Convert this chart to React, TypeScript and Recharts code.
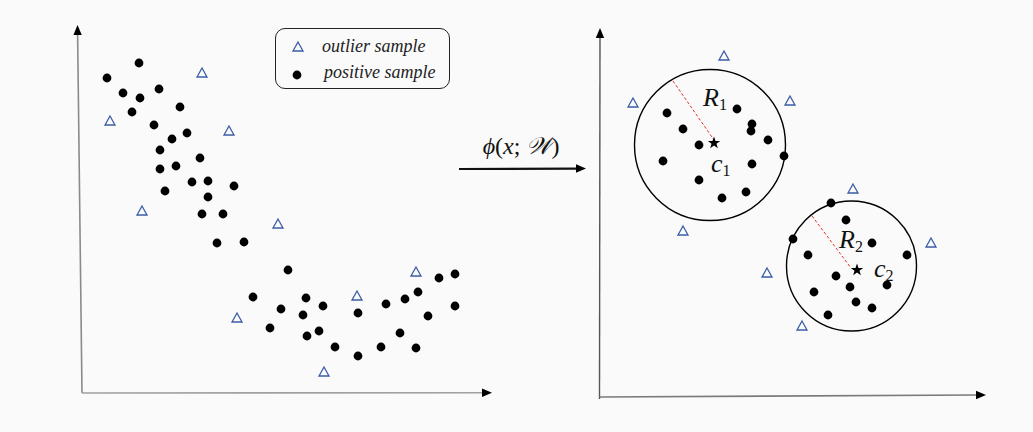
import React from "react";
import {
  ScatterChart,
  Scatter,
  XAxis,
  YAxis,
  ReferenceLine,
  ReferenceDot,
  Legend,
} from "recharts";

// ---------- data (diagram coordinates: x to the right, y downwards) ----------
const positiveLeft = [
  { x: 107, y: 78 }, { x: 139, y: 63 }, { x: 123, y: 93 }, { x: 140, y: 98 },
  { x: 159, y: 89 }, { x: 132, y: 112 }, { x: 180, y: 107 }, { x: 154, y: 125 },
  { x: 187, y: 133 }, { x: 172, y: 139 }, { x: 160, y: 150 }, { x: 200, y: 158 },
  { x: 160, y: 169 }, { x: 176, y: 166 }, { x: 192, y: 182 }, { x: 208, y: 181 },
  { x: 234, y: 186 }, { x: 165, y: 191 }, { x: 208, y: 197 }, { x: 202, y: 214 },
  { x: 223, y: 214 }, { x: 217, y: 243 }, { x: 244, y: 242 }, { x: 288, y: 270 },
  { x: 253, y: 297 }, { x: 281, y: 309 }, { x: 306, y: 298 }, { x: 303, y: 315 },
  { x: 323, y: 306 }, { x: 270, y: 328 }, { x: 307, y: 336 }, { x: 319, y: 331 },
  { x: 335, y: 347 }, { x: 358, y: 313 }, { x: 358, y: 356 }, { x: 386, y: 304 },
  { x: 405, y: 299 }, { x: 418, y: 292 }, { x: 439, y: 278 }, { x: 455, y: 274 },
  { x: 455, y: 306 }, { x: 428, y: 316 }, { x: 400, y: 333 }, { x: 381, y: 347 },
  { x: 416, y: 348 },
];
const outlierLeft = [
  { x: 202, y: 73 }, { x: 110, y: 121 }, { x: 229, y: 131 }, { x: 142, y: 211 },
  { x: 278, y: 224 }, { x: 237, y: 318 }, { x: 357, y: 296 }, { x: 416, y: 272 },
  { x: 324, y: 372 },
];
const positiveCluster1 = [
  { x: 667, y: 113 }, { x: 737, y: 109 }, { x: 683, y: 129 }, { x: 752, y: 124 },
  { x: 751, y: 131 }, { x: 768, y: 140 }, { x: 699, y: 145 }, { x: 784, y: 156 },
  { x: 663, y: 161 }, { x: 752, y: 164 }, { x: 699, y: 180 }, { x: 746, y: 192 },
  { x: 722, y: 198 },
];
const positiveCluster2 = [
  { x: 831, y: 203 }, { x: 846, y: 220 }, { x: 793, y: 239 }, { x: 872, y: 243 },
  { x: 808, y: 255 }, { x: 907, y: 255 }, { x: 836, y: 276 }, { x: 850, y: 287 },
  { x: 887, y: 285 }, { x: 814, y: 292 }, { x: 856, y: 302 }, { x: 872, y: 308 },
  { x: 828, y: 315 },
];
const outlierRight = [
  { x: 724, y: 56 }, { x: 633, y: 103 }, { x: 790, y: 101 }, { x: 683, y: 231 },
  { x: 853, y: 189 }, { x: 931, y: 243 }, { x: 767, y: 273 }, { x: 802, y: 326 },
];
const centers = [
  { x: 714, y: 143 },
  { x: 857, y: 270 },
];
const hyperspheres = [
  { x: 710, y: 145, r: 75.5 },
  { x: 851.5, y: 266, r: 65 },
];
const radii = [
  { from: { x: 673, y: 81 }, to: { x: 714, y: 140 } },
  { from: { x: 812, y: 216 }, to: { x: 851, y: 268 } },
];
const mathLabels = [
  { x: 703, y: 106, main: "R", sub: "1" },
  { x: 711, y: 172, main: "c", sub: "1" },
  { x: 839, y: 248, main: "R", sub: "2" },
  { x: 874, y: 277, main: "c", sub: "2" },
];
const mappingLabel = [{ x: 521, y: 154 }];
const arrows = [
  { from: { x: 82, y: 393 }, to: { x: 77.5, y: 25 }, color: "#8a8a8a", w: 1.6 },
  { from: { x: 82, y: 393 }, to: { x: 492, y: 392.7 }, color: "#a0a0a0", w: 1.6 },
  { from: { x: 599.5, y: 399 }, to: { x: 600, y: 28 }, color: "#555555", w: 1.4 },
  { from: { x: 599.5, y: 397 }, to: { x: 986, y: 395 }, color: "#7a7a7a", w: 1.6 },
  { from: { x: 459, y: 169 }, to: { x: 586, y: 168.5 }, color: "#111111", w: 2.2 },
];
const legendItems = ["outlier sample", "positive sample"];

// ---------- styling ----------
const BLUE = "#3b5ca6";
const SERIF = "'Liberation Serif', 'DejaVu Serif', serif";

const Dot = (p: any) => <circle cx={p.cx} cy={p.cy} r={4.4} fill="#000" />;
const Tri = (p: any) => (
  <polygon
    points={`${p.cx},${p.cy - 5} ${p.cx - 5},${p.cy + 4} ${p.cx + 5},${p.cy + 4}`}
    fill="none"
    stroke={BLUE}
    strokeWidth={1.3}
  />
);
const Star = (p: any) => {
  const pts: string[] = [];
  for (let i = 0; i < 10; i++) {
    const r = i % 2 === 0 ? 6.5 : 2.6;
    const a = -Math.PI / 2 + (i * Math.PI) / 5;
    pts.push(`${p.cx + r * Math.cos(a)},${p.cy + r * Math.sin(a)}`);
  }
  return <polygon points={pts.join(" ")} fill="#000" />;
};
const MathText = (p: any) => (
  <text x={p.cx} y={p.cy} fontFamily={SERIF} fontSize={26} fill="#111">
    <tspan fontStyle="italic">{p.payload.main}</tspan>
    <tspan fontSize={16} dy={4}>{p.payload.sub}</tspan>
  </text>
);
const PhiText = (p: any) => (
  <text x={p.cx} y={p.cy} fontFamily={SERIF} fontSize={24} fill="#111" textAnchor="middle">
    <tspan fontStyle="italic">ϕ</tspan>
    <tspan>(</tspan>
    <tspan fontStyle="italic">x</tspan>
    <tspan>; </tspan>
    <tspan fontStyle="italic">𝒲</tspan>
    <tspan>)</tspan>
  </text>
);

const arrowShape = (color: string, w: number) => (props: any) => {
  const { x1, y1, x2, y2 } = props;
  const ang = Math.atan2(y2 - y1, x2 - x1);
  const L = 10;
  const H = 4.2;
  const bx = x2 - L * Math.cos(ang);
  const by = y2 - L * Math.sin(ang);
  const nx = -Math.sin(ang);
  const ny = Math.cos(ang);
  return (
    <g>
      <line x1={x1} y1={y1} x2={bx} y2={by} stroke={color} strokeWidth={w} />
      <polygon
        points={`${x2},${y2} ${bx + H * nx},${by + H * ny} ${bx - H * nx},${by - H * ny}`}
        fill="#000"
      />
    </g>
  );
};

const LegendBox = () => (
  <div
    style={{
      boxSizing: "border-box",
      width: 175,
      height: 61,
      border: "1.3px solid #222",
      borderRadius: 10,
      fontFamily: SERIF,
      fontStyle: "italic",
      fontSize: 18,
      color: "#222",
      position: "relative",
    }}
  >
    {legendItems.map((name, i) => (
      <div
        key={name}
        style={{ position: "absolute", left: 0, top: i === 0 ? 7 : 33, height: 20, width: 175 }}
      >
        <svg width={30} height={20} style={{ position: "absolute", left: 10, top: 0 }}>
          {i === 0 ? (
            <polygon points="12,6 7,15 17,15" fill="none" stroke={BLUE} strokeWidth={1.3} />
          ) : (
            <circle cx={11} cy={13} r={4.4} fill="#000" />
          )}
        </svg>
        <span style={{ position: "absolute", left: i === 0 ? 46 : 48, top: 0, lineHeight: "20px", whiteSpace: "nowrap" }}>
          {name}
        </span>
      </div>
    ))}
  </div>
);

export default function App() {
  return (
    <div
      style={{
        position: "absolute",
        left: 0,
        top: 0,
        width: 1033,
        height: 432,
        background: "#fafafa",
      }}
    >
      <ScatterChart width={1033} height={432} margin={{ top: 0, right: 0, bottom: 0, left: 0 }}>
        <XAxis type="number" dataKey="x" domain={[0, 1033]} hide allowDataOverflow />
        <YAxis type="number" dataKey="y" domain={[0, 432]} reversed hide allowDataOverflow />
        <Legend
          layout="vertical"
          align="center"
          verticalAlign="middle"
          content={() => <LegendBox />}
          wrapperStyle={{ left: 275, top: 28, width: 175, height: 61 }}
        />
        {arrows.map((a, i) => (
          <ReferenceLine
            key={"ar" + i}
            segment={[a.from, a.to]}
            ifOverflow="visible"
            shape={arrowShape(a.color, a.w)}
          />
        ))}
        {hyperspheres.map((c, i) => (
          <ReferenceDot
            key={"hs" + i}
            x={c.x}
            y={c.y}
            r={c.r}
            fill="none"
            stroke="#000"
            strokeWidth={1.4}
            ifOverflow="visible"
          />
        ))}
        {radii.map((s, i) => (
          <ReferenceLine
            key={"rd" + i}
            segment={[s.from, s.to]}
            stroke="#e8312a"
            strokeWidth={1}
            strokeDasharray="3 2"
            ifOverflow="visible"
          />
        ))}
        <Scatter name="outlier sample" data={[...outlierLeft, ...outlierRight]} shape={Tri} isAnimationActive={false} />
        <Scatter
          name="positive sample"
          data={[...positiveLeft, ...positiveCluster1, ...positiveCluster2]}
          shape={Dot}
          isAnimationActive={false}
        />
        <Scatter name="center" data={centers} shape={Star} legendType="none" isAnimationActive={false} />
        <Scatter name="labels" data={mathLabels} shape={MathText} legendType="none" isAnimationActive={false} />
        <Scatter name="mapping" data={mappingLabel} shape={PhiText} legendType="none" isAnimationActive={false} />
      </ScatterChart>
    </div>
  );
}
